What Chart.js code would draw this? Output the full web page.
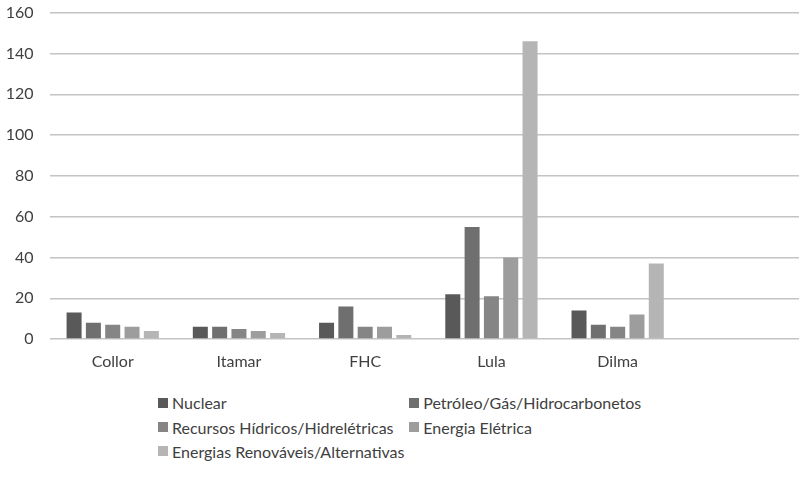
<!DOCTYPE html>
<html>
<head>
<meta charset="utf-8">
<script src="https://cdn.jsdelivr.net/npm/chart.js"></script>
<style>
  html, body { margin: 0; padding: 0; background: #fff; overflow: hidden; width: 799px; height: 485px; }
  #wrap { position: relative; width: 799px; height: 485px; }
  canvas { position: absolute; left: 0; top: 0; }
  .lg { position: absolute; display: flex; align-items: center; font-family: Lato, sans-serif; font-size: 16px; line-height: 19px; color: #404040; white-space: nowrap; }
  .lg i { display: inline-block; width: 10px; height: 10px; margin-right: 4px; }
</style>
</head>
<body>
<div id="wrap">
  <canvas id="c" width="809" height="387"></canvas>
</div>
<script>
// Presidential terms on the x axis (the last slot is left empty)
const categories = ['Collor', 'Itamar', 'FHC', 'Lula', 'Dilma', ''];

// Number of items per energy theme in each term
const nuclear      = [13, 6, 8, 22, 14, null];
const petroleo     = [8, 6, 16, 55, 7, null];
const recursosHidr = [7, 5, 6, 21, 6, null];
const energiaElet  = [6, 4, 6, 40, 12, null];
const renovaveis   = [4, 3, 2, 146, 37, null];

const seriesNames = [
  'Nuclear',
  'Petróleo/Gás/Hidrocarbonetos',
  'Recursos Hídricos/Hidrelétricas',
  'Energia Elétrica',
  'Energias Renováveis/Alternativas'
];
const seriesColors = ['#595959', '#6f6f6f', '#858585', '#9d9d9d', '#b5b5b5'];

const yTicks = [0, 20, 40, 60, 80, 100, 120, 140, 160];

const seriesData = [nuclear, petroleo, recursosHidr, energiaElet, renovaveis];

const font = { family: 'Lato, sans-serif', size: 16 };
const textColor = '#404040';

const chart = new Chart(document.getElementById('c'), {
  type: 'bar',
  data: {
    labels: categories,
    datasets: seriesData.map((d, i) => ({
      label: seriesNames[i],
      data: d,
      backgroundColor: seriesColors[i],
      borderWidth: 0,
      categoryPercentage: 0.765,
      barPercentage: 0.777
    }))
  },
  options: {
    responsive: false,
    animation: false,
    layout: { padding: { top: 12.7, right: 2, bottom: 2.7, left: 0 } },
    plugins: { legend: { display: false }, tooltip: { enabled: false } },
    scales: {
      x: {
        grid: { display: false, drawTicks: false },
        border: { display: false },
        ticks: { color: textColor, font: font, padding: 13, maxRotation: 0 }
      },
      y: {
        min: yTicks[0],
        max: yTicks[yTicks.length - 1],
        afterBuildTicks(scale) { scale.ticks = yTicks.map(v => ({ value: v })); },
        afterFit(scale) {
          scale.width = 49.6;
          scale.paddingTop = 0;
          scale.paddingBottom = 0;
        },
        grid: { color: '#c4c4c4', lineWidth: 1.5, drawTicks: false },
        border: { display: false },
        ticks: { color: textColor, font: font, padding: 16 }
      }
    }
  }
});

// Two-column legend under the plot
const legendPos = [
  [158, 403.3], [409.3, 403.3],
  [158, 427.6], [409.3, 427.6],
  [158, 451.7]
];
const wrap = document.getElementById('wrap');
seriesNames.forEach((name, i) => {
  const el = document.createElement('div');
  el.className = 'lg';
  el.style.left = legendPos[i][0] + 'px';
  el.style.top = (legendPos[i][1] - 10) + 'px';
  const box = document.createElement('i');
  box.style.background = seriesColors[i];
  el.appendChild(box);
  el.appendChild(document.createTextNode(name));
  wrap.appendChild(el);
});
</script>
</body>
</html>
